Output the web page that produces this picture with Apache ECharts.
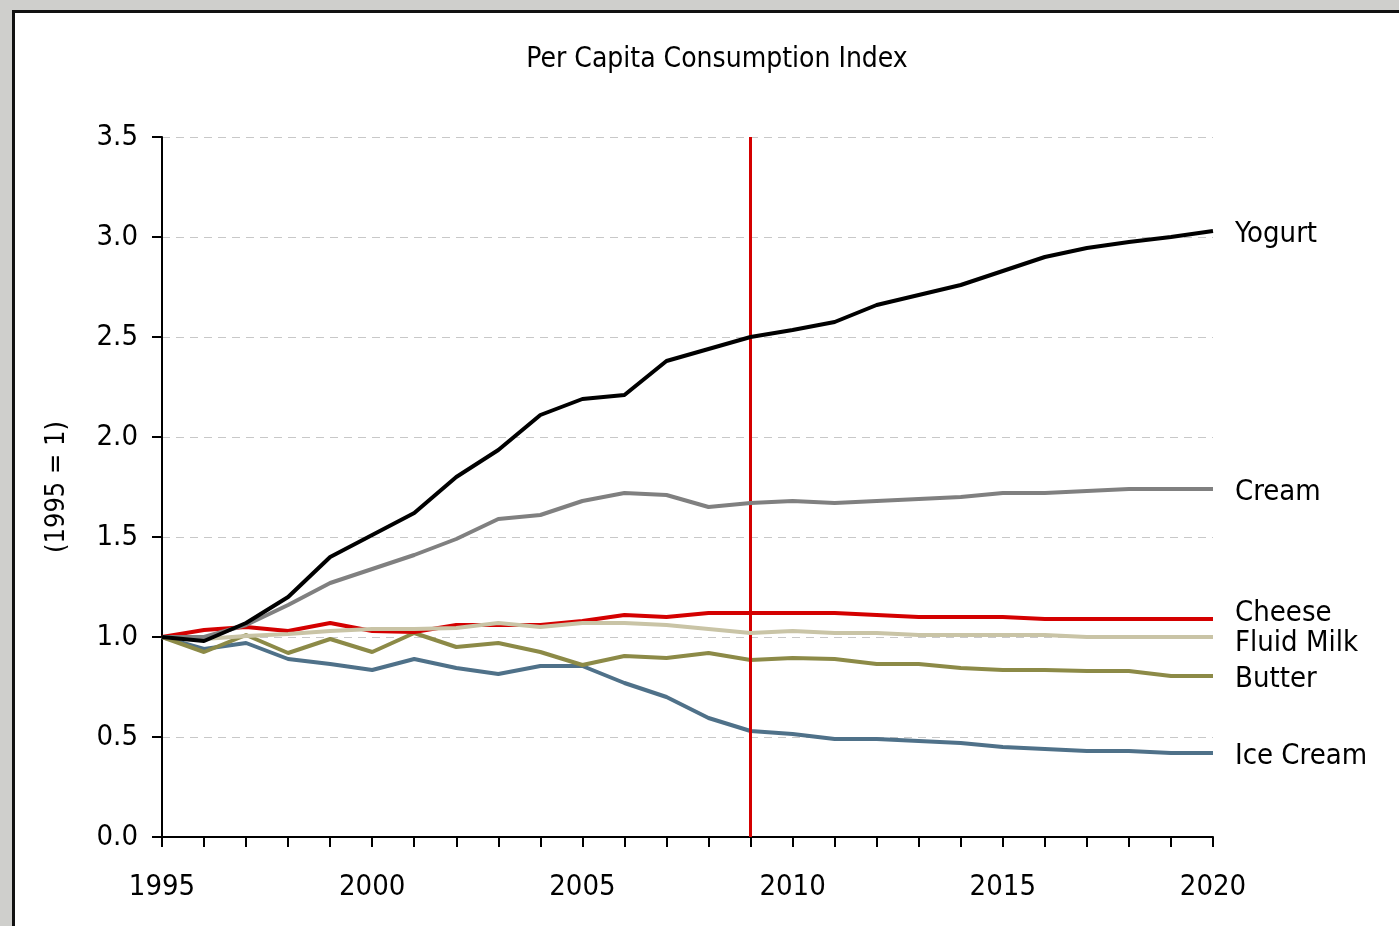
<!DOCTYPE html>
<html>
<head>
<meta charset="utf-8">
<script src="https://cdn.jsdelivr.net/npm/echarts@6/dist/echarts.min.js"></script>
<style>
  body { margin: 0; background: #cfcfcc; }
  #frame {
    position: absolute; left: 12px; top: 10px; width: 1400px; height: 930px;
    background: #fff; border-top: 3px solid #111; border-left: 3px solid #111;
  }
  #chart { position: absolute; left: 0; top: 0; width: 1399px; height: 926px; }
</style>
</head>
<body>
<div id="frame"></div>
<div id="chart"></div>
<script>
// years 1995 - 2020
var years = [];
for (var y = 1995; y <= 2020; y++) years.push(String(y));

var yogurt   = [1.00,0.98,1.07,1.20,1.40,1.51,1.62,1.80,1.935,2.11,2.19,2.21,2.38,2.44,2.50,2.535,2.575,2.66,2.71,2.76,2.83,2.90,2.945,2.975,3.00,3.03];
var cream    = [1.00,1.00,1.06,1.16,1.27,1.34,1.41,1.49,1.59,1.61,1.68,1.72,1.71,1.65,1.67,1.68,1.67,1.68,1.69,1.70,1.72,1.72,1.73,1.74,1.74,1.74];
var cheese   = [1.00,1.035,1.05,1.03,1.07,1.03,1.025,1.06,1.06,1.06,1.08,1.11,1.10,1.12,1.12,1.12,1.12,1.11,1.10,1.10,1.10,1.09,1.09,1.09,1.09,1.09];
var fluidMilk= [1.00,0.99,1.005,1.015,1.03,1.04,1.04,1.045,1.07,1.05,1.07,1.07,1.06,1.04,1.02,1.03,1.02,1.02,1.01,1.01,1.01,1.01,1.00,1.00,1.00,1.00];
var butter   = [1.00,0.925,1.01,0.92,0.99,0.925,1.02,0.95,0.97,0.925,0.86,0.905,0.895,0.92,0.885,0.895,0.89,0.865,0.865,0.845,0.835,0.835,0.83,0.83,0.805,0.805];
var iceCream = [1.00,0.94,0.97,0.89,0.865,0.835,0.89,0.845,0.815,0.855,0.855,0.77,0.70,0.595,0.53,0.515,0.49,0.49,0.48,0.47,0.45,0.44,0.43,0.43,0.42,0.42];

var font = "'Liberation Sans Narrow', 'Arial Narrow', 'DejaVu Sans Condensed', sans-serif";

var myChart = echarts.init(document.getElementById('chart'));

function line(name, data, color, labelDy, z) {
  return {
    name: name,
    type: 'line',
    data: data,
    symbol: 'none',
    z: z,
    lineStyle: { color: color, width: 4 },
    endLabel: {
      show: true,
      formatter: '{a}',
      distance: 22,
      offset: [0, labelDy],
      color: '#000',
      fontFamily: font,
      fontSize: 29
    }
  };
}

var series = [
  line('Ice Cream', iceCream, '#4f7189', 3, 2),
  line('Butter', butter, '#8c8a47', 3, 3),
  line('Cheese', cheese, '#d40000', -6, 4),
  line('Fluid Milk', fluidMilk, '#c9c4a6', 6, 5),
  line('Cream', cream, '#808080', 3, 6),
  line('Yogurt', yogurt, '#000000', 3, 7)
];
// red vertical marker at 2009
series[5].markLine = {
  silent: true,
  symbol: 'none',
  label: { show: false },
  lineStyle: { color: '#d40000', width: 3, type: 'solid' },
  data: [{ xAxis: '2009' }]
};

var option = {
  animation: false,
  textStyle: { fontFamily: font },
  title: {
    text: 'Per Capita Consumption Index',
    left: 712, top: 41, textAlign: 'center',
    textStyle: { fontFamily: font, fontSize: 28, fontWeight: 'normal', color: '#000' }
  },
  grid: { left: 162, right: 186, top: 137, bottom: 89 },
  xAxis: {
    type: 'category',
    data: years,
    boundaryGap: false,
    axisLine: { lineStyle: { color: '#000', width: 2 } },
    axisTick: { show: true, interval: 0, length: 10, lineStyle: { color: '#000', width: 2 } },
    axisLabel: { interval: 4, color: '#000', fontFamily: font, fontSize: 29, margin: 36 },
    splitLine: { show: false }
  },
  yAxis: {
    type: 'value',
    min: 0, max: 3.5, interval: 0.5,
    name: '(1995 = 1)',
    nameLocation: 'middle',
    nameGap: 92,
    nameTextStyle: { color: '#000', fontFamily: font, fontSize: 27 },
    axisLine: { show: true, lineStyle: { color: '#000', width: 2 } },
    axisTick: { show: true, length: 10, lineStyle: { color: '#000', width: 2 } },
    axisLabel: { color: '#000', fontFamily: font, fontSize: 29, margin: 24,
      formatter: function (v) { return v.toFixed(1); } },
    splitLine: { lineStyle: { color: '#c8c8c8', type: [8, 6], width: 1 } }
  },
  series: series
};

myChart.setOption(option);
</script>
</body>
</html>
